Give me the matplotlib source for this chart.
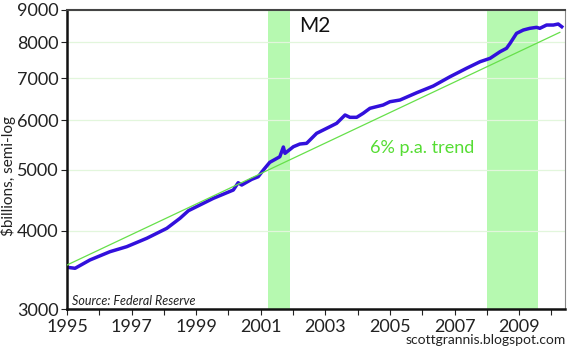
import matplotlib
matplotlib.use("Agg")
import matplotlib.pyplot as plt
from matplotlib.ticker import FixedLocator, NullLocator, FixedFormatter

# M2 money stock, $billions
m2_years = [1995.00, 1995.25, 1995.71, 1996.33, 1996.85, 1997.47, 1998.09, 1998.50,
            1998.76, 1999.53, 2000.15, 2000.30, 2000.41, 2000.72, 2000.92, 2001.08,
            2001.28, 2001.59, 2001.70, 2001.75, 2002.01, 2002.21, 2002.42, 2002.73,
            2003.14, 2003.35, 2003.61, 2003.76, 2003.97, 2004.17, 2004.38, 2004.79,
            2005.00, 2005.31, 2005.83, 2006.34, 2006.86, 2007.37, 2007.79, 2008.10,
            2008.41, 2008.61, 2008.72, 2008.92, 2009.13, 2009.33, 2009.54, 2009.64,
            2009.85, 2010.06, 2010.21, 2010.32]
m2_values = [3497, 3484, 3592, 3703, 3772, 3890, 4035, 4187,
             4305, 4505, 4645, 4771, 4731, 4831, 4877, 4999,
             5143, 5249, 5440, 5315, 5446, 5500, 5514, 5721,
             5861, 5935, 6119, 6067, 6067, 6157, 6271, 6348,
             6425, 6465, 6641, 6806, 7043, 7264, 7442, 7535,
             7721, 7818, 7962, 8260, 8361, 8413, 8444, 8413,
             8516, 8516, 8548, 8463]

# 6% p.a. trend line end points
trend_years = [1995.0, 2010.26]
trend_values = [3526, 8290]

# recessions
recessions = [(2001.22, 2001.90), (2008.0, 2009.58)]

y_ticks = [3000, 4000, 5000, 6000, 7000, 8000, 9000]
x_major = [1995, 1997, 1999, 2001, 2003, 2005, 2007, 2009]
x_minor = [1996, 1998, 2000, 2002, 2004, 2006, 2008, 2010]

FONT = ['Lato', 'DejaVu Sans']
plt.rcParams['font.family'] = FONT

fig = plt.figure(figsize=(5.74, 3.54), dpi=100)
ax = fig.add_axes([0.1167, 0.1271, 0.8676, 0.8447])

for start, end in recessions:
    ax.axvspan(start, end, color='#b6f9b0', lw=0, zorder=0)

ax.plot(trend_years, trend_values, color='#66e04a', lw=0.9, zorder=3)
ax.plot(m2_years, m2_values, color='#3210dc', lw=2.5, zorder=2, solid_joinstyle='round')

ax.set_yscale('log')
ax.set_ylim(3000, 9000)
ax.set_xlim(1995, 2010.42)

ax.yaxis.set_major_locator(FixedLocator(y_ticks))
ax.yaxis.set_major_formatter(FixedFormatter([str(v) for v in y_ticks]))
ax.yaxis.set_minor_locator(NullLocator())
ax.xaxis.set_major_locator(FixedLocator(x_major))
ax.xaxis.set_minor_locator(FixedLocator(x_minor))
ax.xaxis.set_major_formatter(FixedFormatter([str(v) for v in x_major]))

ax.grid(axis='y', color='#e2f6dc', lw=0.9, zorder=0)
ax.tick_params(axis='both', which='both', direction='out', length=4, width=0.8,
               colors='#222222', labelsize=13)
ax.tick_params(axis='y', pad=2)
ax.tick_params(axis='x', pad=3)

for side in ['left', 'bottom']:
    ax.spines[side].set_linewidth(1.8)
    ax.spines[side].set_color('#111111')
ax.spines['top'].set_linewidth(1.5)
ax.spines['top'].set_color('#444444')
ax.spines['right'].set_linewidth(0.8)
ax.spines['right'].set_color('#888888')

ax.set_ylabel('$billions, semi-log', fontsize=11, color='#222222', va='center')
ax.yaxis.set_label_coords(-0.119, 0.445)

ax.text(2002.2, 8480, 'M2', fontsize=15, color='#111111', va='center')
ax.text(2006.0, 5420, '6% p.a. trend', fontsize=13, color='#55dd33',
        ha='center', va='center')
ax.text(1995.15, 3090, 'Source: Federal Reserve', fontsize=9, style='italic',
        color='#222222', va='center')
fig.text(0.985, 0.04, 'scottgrannis.blogspot.com', fontsize=10, color='#222222',
         ha='right', va='center')

fig.savefig('out.png', dpi=100, facecolor='white')
